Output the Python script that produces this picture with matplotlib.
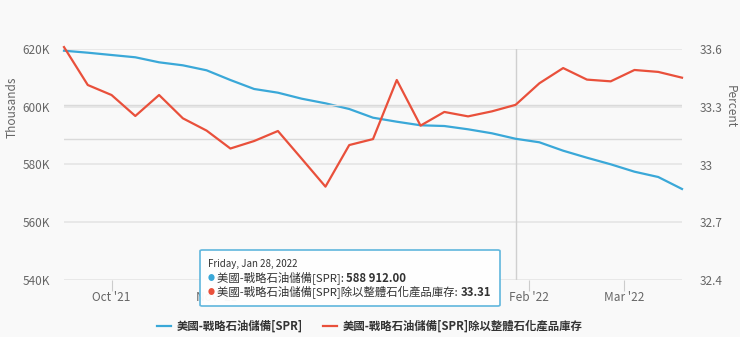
import matplotlib
matplotlib.use("Agg")
import matplotlib.pyplot as plt
import matplotlib.dates as mdates
from matplotlib.patches import FancyBboxPatch
from matplotlib.lines import Line2D
import numpy as np
import pandas as pd

plt.rcParams['font.family'] = ['Noto Sans CJK TC', 'DejaVu Sans']

# weekly (Friday) series
dates = pd.date_range("2021-09-17", "2022-03-18", freq="7D")

# SPR stocks, thousand barrels
spr = [619410, 618720, 617920, 617130, 615390, 614350, 612620, 609260, 606150,
       604870, 602790, 601190, 599220, 596210, 594820, 593580, 593330, 592190,
       590810, 588912, 587690, 584780, 582350, 580070, 577510, 575670, 571520]

# SPR divided by total petroleum product stocks, percent
ratio = [33.61, 33.413, 33.361, 33.252, 33.361, 33.240, 33.176, 33.083, 33.122,
         33.174, 33.03, 32.885, 33.101, 33.132, 33.439, 33.202, 33.273, 33.250,
         33.276, 33.31, 33.422, 33.501, 33.441, 33.432, 33.491, 33.481, 33.451]

left_ticks = [540000, 560000, 580000, 600000, 620000]
right_ticks = [32.4, 32.7, 33.0, 33.3, 33.6]
month_ticks = pd.to_datetime(["2021-10-01", "2021-11-01", "2021-12-01",
                              "2022-01-01", "2022-02-01", "2022-03-01"])
# Dec/Jan labels sit under the tooltip
month_labels = ["Oct '21", "Nov '21", "", "", "Feb '22", "Mar '22"]
hover_idx = 19

name_spr = "美國-戰略石油儲備[SPR]"
name_ratio = "美國-戰略石油儲備[SPR]除以整體石化產品庫存"

blue = "#3aa8d8"
red = "#e9503b"
grey_txt = "#666666"
bg = "#f9f9f9"

fig = plt.figure(figsize=(7.4, 3.37), dpi=100, facecolor=bg)
ax = fig.add_axes([64/740, 1-280/337, (682-64)/740, (280-49)/337])
ax.set_facecolor(bg)
ax2 = ax.twinx()

# grid + crosshairs
for v in left_ticks:
    ax.axhline(v, color="#e3e3e3", lw=1.1, zorder=0)
ax.axvline(dates[hover_idx], color="#d0d0d0", lw=1, zorder=1)
ax.axhline(spr[hover_idx], color="#dadada", lw=1, zorder=1)
ax2.axhline(ratio[hover_idx], color="#dadada", lw=1, zorder=1)

ax.plot(dates, spr, color=blue, lw=1.6, zorder=3, clip_on=False)
ax2.plot(dates, ratio, color=red, lw=1.6, zorder=3, clip_on=False)

ax.set_xlim(dates[0], dates[-1])
ax.set_ylim(540000, 620000)
ax2.set_ylim(32.4, 33.6)

ax.set_yticks(left_ticks)
ax.set_yticklabels([f"{v//1000}K" for v in left_ticks])
ax2.set_yticks(right_ticks)
ax2.set_yticklabels([f"{v:g}" for v in right_ticks])

ax.set_xticks(month_ticks)
ax.set_xticklabels(month_labels)

for a in (ax, ax2):
    for s in a.spines.values():
        s.set_visible(False)
ax.tick_params(axis="y", length=0, labelsize=8.5, labelcolor=grey_txt, pad=10)
ax2.tick_params(axis="y", length=0, labelsize=8.5, labelcolor=grey_txt, pad=13)
ax.tick_params(axis="x", length=8, color="#cccccc", labelsize=8.5,
               labelcolor=grey_txt, pad=0)

fig.text(12/740, 1-107/337, "Thousands", rotation=90, ha="center", va="center",
         fontsize=8.5, color=grey_txt)
fig.text(730/740, 1-107/337, "Percent", rotation=-90, ha="center", va="center",
         fontsize=8.5, color=grey_txt)

# tooltip box
box = FancyBboxPatch((200/740, 1-306/337), 300/740, 56/337,
                     boxstyle="round,pad=0,rounding_size=0.003",
                     transform=fig.transFigure, facecolor="#ffffff",
                     edgecolor="#5ab4dc", lw=1.2, alpha=0.96, zorder=10)
fig.add_artist(box)
fig.text(208/740, 1-264/337, dates[hover_idx].strftime("%A, %b %d, %Y").replace(" 0", " "),
         fontsize=7, color="#333333", va="center", zorder=11)

rows = [(278, blue, name_spr, f"{spr[hover_idx]:,.2f}".replace(",", " ")),
        (292, red, name_ratio, f"{ratio[hover_idx]:.2f}")]
for y, c, name, val in rows:
    fig.text(211/740, 1-y/337, "●", color=c, fontsize=5, ha="center",
             va="center", zorder=11)
    t = fig.text(217/740, 1-y/337, name + ": ", fontsize=8.2, color="#333333",
                 va="center", zorder=11)
    fig.add_artist(plt.Annotation(val, xy=(1, 0.5), xycoords=t, va="center",
                                  fontsize=8.2, fontweight="bold", color="#333333",
                                  zorder=11))

handles = [Line2D([], [], color=blue, lw=1.6), Line2D([], [], color=red, lw=1.6)]
fig.legend(handles, [name_spr, name_ratio], loc="center", ncol=2,
           bbox_to_anchor=(0.5, 1-326/337), frameon=False, handlelength=1.25,
           columnspacing=1.75, handletextpad=0.5,
           prop={"size": 8.2, "weight": "bold"}, labelcolor="#333333")

fig.savefig("out.png", dpi=100, facecolor=bg)
